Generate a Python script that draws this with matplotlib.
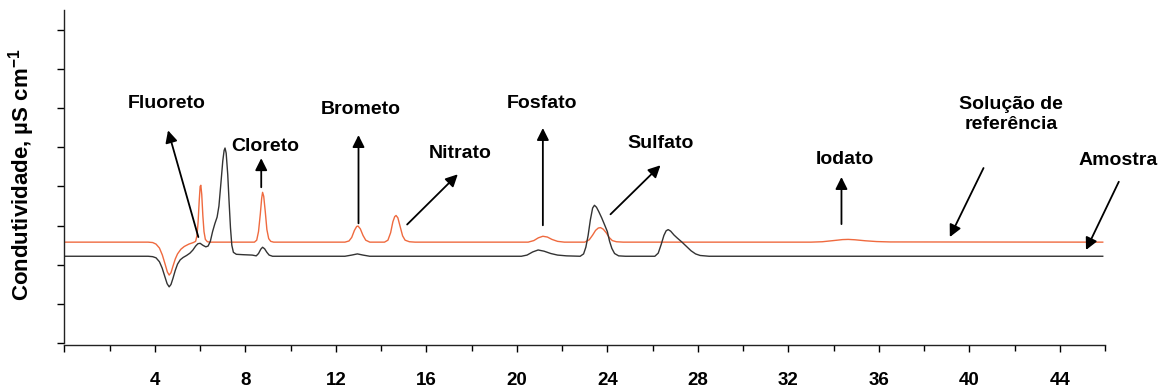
import numpy as np
import matplotlib
matplotlib.use("Agg")
import matplotlib.pyplot as plt

plt.rcParams["font.family"] = ["Liberation Sans", "DejaVu Sans"]
plt.rcParams["font.weight"] = "bold"
plt.rcParams["mathtext.fontset"] = "custom"
plt.rcParams["mathtext.rm"] = "Liberation Sans:bold"
plt.rcParams["mathtext.bf"] = "Liberation Sans:bold"
plt.rcParams["mathtext.default"] = "bf"

# Chromatogram of the sample (time in min, conductivity)
amostra = [
    (0.0, 2.22), (3.7, 2.22), (3.9, 2.21), (4.05, 2.18), (4.2, 2.08), (4.32, 1.92),
    (4.44, 1.70), (4.54, 1.52), (4.63, 1.44), (4.71, 1.50), (4.80, 1.66), (4.90, 1.86),
    (5.0, 2.02), (5.12, 2.13), (5.25, 2.19), (5.4, 2.24), (5.55, 2.30), (5.68, 2.38),
    (5.8, 2.48), (5.9, 2.54), (6.0, 2.55), (6.12, 2.50), (6.25, 2.46), (6.35, 2.48),
    (6.45, 2.60), (6.55, 2.85), (6.65, 3.05), (6.75, 3.22), (6.83, 3.50), (6.92, 4.10),
    (7.0, 4.65), (7.06, 4.92), (7.1, 4.98), (7.15, 4.85), (7.22, 4.30), (7.28, 3.60),
    (7.34, 2.95), (7.4, 2.50), (7.47, 2.32), (7.6, 2.27), (7.9, 2.26), (8.3, 2.25),
    (8.48, 2.23), (8.58, 2.29), (8.68, 2.40), (8.76, 2.45), (8.85, 2.41), (8.95, 2.32),
    (9.05, 2.25), (9.2, 2.22), (12.4, 2.22), (12.7, 2.25), (12.95, 2.28), (13.2, 2.25),
    (13.5, 2.22), (20.2, 2.22), (20.45, 2.25), (20.7, 2.33), (20.94, 2.38), (21.2, 2.35),
    (21.5, 2.29), (21.8, 2.25), (22.2, 2.23), (22.8, 2.22), (22.95, 2.28), (23.05, 2.45),
    (23.15, 2.75), (23.25, 3.15), (23.35, 3.45), (23.43, 3.52), (23.52, 3.47), (23.62, 3.36),
    (23.75, 3.20), (23.88, 3.02), (24.0, 2.85), (24.1, 2.60), (24.2, 2.42), (24.32, 2.29),
    (24.5, 2.23), (24.8, 2.22), (26.1, 2.22), (26.25, 2.30), (26.38, 2.52), (26.5, 2.75),
    (26.6, 2.87), (26.69, 2.90), (26.8, 2.86), (26.95, 2.76), (27.1, 2.68), (27.3, 2.58),
    (27.5, 2.47), (27.7, 2.36), (27.9, 2.28), (28.1, 2.24), (28.5, 2.22), (45.9, 2.22),
]

# Chromatogram of the reference solution
referencia = [
    (0.0, 2.58), (3.7, 2.58), (3.9, 2.57), (4.05, 2.53), (4.2, 2.43), (4.33, 2.25),
    (4.45, 2.02), (4.55, 1.82), (4.63, 1.74), (4.71, 1.80), (4.8, 1.97), (4.9, 2.15),
    (5.0, 2.28), (5.15, 2.40), (5.3, 2.47), (5.5, 2.53), (5.7, 2.57), (5.8, 2.60),
    (5.86, 2.75), (5.91, 3.10), (5.96, 3.65), (6.0, 4.00), (6.03, 4.03), (6.07, 3.80),
    (6.12, 3.25), (6.17, 2.85), (6.23, 2.65), (6.32, 2.59), (6.45, 2.58),
    (8.4, 2.58), (8.5, 2.63), (8.58, 2.85), (8.66, 3.30), (8.72, 3.70), (8.76, 3.85),
    (8.81, 3.75), (8.88, 3.35), (8.95, 2.90), (9.03, 2.67), (9.12, 2.60), (9.25, 2.58),
    (12.4, 2.58), (12.58, 2.61), (12.7, 2.70), (12.82, 2.88), (12.92, 2.98), (12.98, 2.99),
    (13.08, 2.92), (13.2, 2.75), (13.32, 2.63), (13.5, 2.58),
    (14.15, 2.58), (14.3, 2.63), (14.42, 2.82), (14.52, 3.10), (14.6, 3.23), (14.66, 3.26),
    (14.74, 3.20), (14.84, 2.98), (14.95, 2.74), (15.06, 2.63), (15.25, 2.59), (15.5, 2.58),
    (20.5, 2.58), (20.75, 2.62), (20.95, 2.69), (21.15, 2.73), (21.35, 2.71), (21.55, 2.65),
    (21.8, 2.60), (22.1, 2.58),
    (23.0, 2.58), (23.2, 2.64), (23.35, 2.76), (23.48, 2.88), (23.6, 2.94), (23.7, 2.95),
    (23.82, 2.91), (23.95, 2.82), (24.08, 2.70), (24.22, 2.62), (24.4, 2.59), (24.7, 2.58),
    (33.0, 2.58), (33.5, 2.59), (34.0, 2.62), (34.4, 2.645), (34.65, 2.65), (34.95, 2.64),
    (35.4, 2.615), (35.9, 2.595), (36.5, 2.585), (45.9, 2.58),
]

xticks_major = [0, 4, 8, 12, 16, 20, 24, 28, 32, 36, 40, 44]
xtick_labels = ["", "4", "8", "12", "16", "20", "24", "28", "32", "36", "40", "44"]

# label, text position, arrow tail, arrow head
annotations = [
    ("Fluoreto", (4.54, 6.12), (5.92, 2.71), (4.58, 5.43)),
    ("Cloreto", (8.88, 5.03), (8.70, 3.98), (8.70, 4.72)),
    ("Brometo", (13.12, 5.97), (13.0, 3.06), (13.0, 5.31)),
    ("Nitrato", (17.5, 4.85), (15.15, 3.03), (17.39, 4.31)),
    ("Fosfato", (21.09, 6.12), (21.15, 3.01), (21.15, 5.49)),
    ("Sulfato", (26.35, 5.10), (24.14, 3.29), (26.35, 4.54)),
    ("Iodato", (34.5, 4.70), (34.35, 3.04), (34.35, 4.24)),
    ("Solução de\nreferência", (41.84, 5.83), (40.63, 4.47), (39.14, 2.71)),
    ("Amostra", (46.56, 4.67), (46.61, 4.12), (45.16, 2.38)),
]

fig = plt.figure(figsize=(11.65, 3.92), dpi=100)
ax = fig.add_axes([0.0553, 0.1242, 0.8932, 0.8503])

ref = np.array(referencia)
amo = np.array(amostra)
ax.plot(ref[:, 0], ref[:, 1], color="#EF6A3F", lw=1.0, solid_joinstyle="round")
ax.plot(amo[:, 0], amo[:, 1], color="#333333", lw=1.0, solid_joinstyle="round")

ax.set_xlim(0, 46)
ax.set_ylim(0, 8.5)

for label, txt, tail, head in annotations:
    ax.text(txt[0], txt[1], label, ha="center", va="center", fontsize=14,
            fontweight="bold", linespacing=1.25)
    ax.annotate("", xy=head, xytext=tail,
                arrowprops=dict(arrowstyle="-|>,head_length=0.6,head_width=0.3",
                                mutation_scale=12, lw=1.3, color="black",
                                shrinkA=0, shrinkB=0))

ax.set_xticks(xticks_major)
ax.set_xticklabels(xtick_labels)
ax.set_xticks(np.arange(2, 47, 4), minor=True)
ax.set_yticks(np.arange(0, 9, 1))
ax.set_yticklabels([])
ax.tick_params(axis="x", which="major", length=5, width=1, pad=14, labelsize=13.5,
               direction="out")
ax.tick_params(axis="x", which="minor", length=4, width=1, direction="out")
ax.tick_params(axis="y", length=5, width=1, direction="out")
for lab in ax.get_xticklabels():
    lab.set_fontweight("bold")

for side in ("top", "right"):
    ax.spines[side].set_visible(False)
for side in ("left", "bottom"):
    ax.spines[side].set_linewidth(1.0)
    ax.spines[side].set_color("#222222")
ax.spines["bottom"].set_position(("outward", 1.5))

fig.text(22 / 1165, 1 - 175 / 392, "Condutividade, µS cm$^{-1}$", rotation=90,
         ha="center", va="center", fontsize=16, fontweight="bold")

fig.savefig("out.png", dpi=100)
